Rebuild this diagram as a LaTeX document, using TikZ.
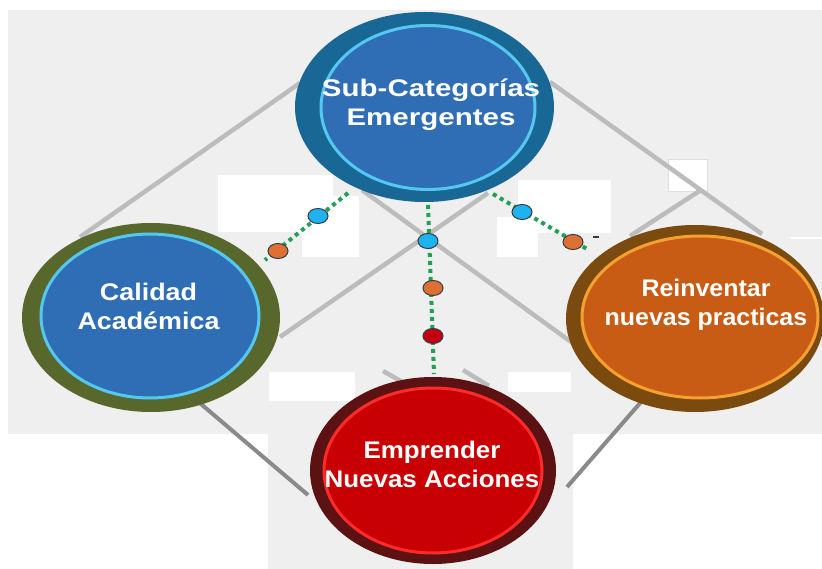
\documentclass[tikz,border=0pt]{standalone}
\usepackage{fontspec}
\setmainfont{Liberation Sans}
\newfontfamily\subcatfont[FakeStretch=1.23]{Liberation Sans}
\newfontfamily\calfont[FakeStretch=1.12]{Liberation Sans}
\newfontfamily\reifont[FakeStretch=1.04]{Liberation Sans}
\newfontfamily\empfont[FakeStretch=1.08]{Liberation Sans}
\usepackage{tikz}

\definecolor{bggray}{RGB}{239,239,239}
\definecolor{upgray}{RGB}{188,188,188}
\definecolor{lowgray}{RGB}{138,138,138}
\definecolor{dotgreen}{RGB}{34,160,84}
\definecolor{subouter}{RGB}{24,103,148}
\definecolor{calouter}{RGB}{88,103,44}
\definecolor{reiouter}{RGB}{122,74,14}
\definecolor{empouter}{RGB}{92,18,18}
\definecolor{bluefill}{RGB}{47,109,181}
\definecolor{bluering}{RGB}{85,200,240}
\definecolor{orangefill}{RGB}{200,92,20}
\definecolor{orangering}{RGB}{246,160,48}
\definecolor{redfill}{RGB}{200,0,4}
\definecolor{redring}{RGB}{255,42,42}
\definecolor{dotblue}{RGB}{30,178,238}
\definecolor{dotorange}{RGB}{222,112,52}
\definecolor{dotred}{RGB}{196,0,16}
\definecolor{dotedge}{RGB}{50,60,70}

\tikzset{
	upline/.style={upgray, line width=4.5pt},
	lowline/.style={lowgray, line width=4pt},
	greenline/.style={dotgreen, line width=4pt, dash pattern=on 4pt off 4pt},
	dotmark/.style={draw=dotedge, line width=1pt},
	lbl/.style={text=white, align=center, inner sep=0pt, font=#1\bfseries\fontsize{24pt}{29pt}\selectfont}
}

\begin{document}
\begin{tikzpicture}[x=1pt,y=-1pt]
	\useasboundingbox (0,0) rectangle (822,569);
	% Background %
	\fill [bggray] (8,10) rectangle (822,434);
	\fill [bggray] (268,434) rectangle (573,569);
	% Patches %
	\fill [white] (218,175) rectangle (333,232);
	\fill [white] (302,196) rectangle (359,257);
	\fill [white] (518,180) rectangle (611,233);
	\fill [white] (497,217) rectangle (538,257);
	\filldraw [fill=white, draw=gray!25] (668,159) rectangle (707,191);
	\fill [white] (791,237) rectangle (822,239);
	\fill [white] (269,372) rectangle (355,401);
	\fill [white] (508,372) rectangle (571,392);
	% Line ends %
	\coordinate (cal-top) at (80,237);
	\coordinate (sub-left) at (300,83);
	\coordinate (sub-right) at (550,82);
	\coordinate (rei-top) at (762,234);
	\coordinate (sub-low) at (362,190);
	\coordinate (rei-left) at (578,347);
	\coordinate (cal-right) at (280,337);
	\coordinate (sub-mid) at (488,193);
	\coordinate (cal-low) at (188,393);
	\coordinate (emp-left) at (308,495);
	\coordinate (emp-right) at (567,487);
	\coordinate (rei-low) at (641,402);
	\coordinate (rei-up) at (630,236);
	\coordinate (crossing) at (701,190);
	\coordinate (emp-a) at (383,371);
	\coordinate (emp-b) at (406,384);
	\coordinate (emp-c) at (463,370);
	\coordinate (emp-d) at (489,386);
	% Lines %
	\draw [upline] (cal-top) -- (sub-left);
	\draw [upline] (sub-right) -- (rei-top);
	\draw [upline] (sub-low) -- (rei-left);
	\draw [upline] (cal-right) -- (sub-mid);
	\draw [upline] (rei-up) -- (crossing);
	\draw [upline] (emp-a) -- (emp-b);
	\draw [upline] (emp-c) -- (emp-d);
	\draw [lowline] (cal-low) -- (emp-left);
	\draw [lowline] (emp-right) -- (rei-low);
	% Sub-Categorias %
	\fill [subouter] (424.5,107) ellipse (129.5pt and 95pt);
	\filldraw [fill=bluefill, draw=bluering, line width=3pt] (428,107.5) ellipse (107pt and 82pt);
	% Calidad %
	\fill [calouter] (151,317.5) ellipse (129pt and 94.5pt);
	\filldraw [fill=bluefill, draw=bluering, line width=3pt] (150,316) ellipse (109pt and 82pt);
	% Reinventar %
	\fill [reiouter] (695,318.5) ellipse (129pt and 93.5pt);
	\filldraw [fill=orangefill, draw=orangering, line width=3pt] (700,317) ellipse (118pt and 81pt);
	% Emprender %
	\fill [empouter] (433,470.5) ellipse (123pt and 93.5pt);
	\filldraw [fill=redfill, draw=redring, line width=3pt] (433,470.5) ellipse (109pt and 82.5pt);
	% Dotted links %
	\coordinate (lk-top-l) at (348,193);
	\coordinate (lk-cal) at (265,260);
	\coordinate (lk-top-m) at (428,205);
	\coordinate (lk-emp) at (434,374);
	\coordinate (lk-top-r) at (493,194);
	\coordinate (lk-rei) at (587,249);
	\draw [greenline] (lk-top-l) -- (lk-cal);
	\draw [greenline] (lk-top-m) -- (lk-emp);
	\draw [greenline] (lk-top-r) -- (lk-rei);
	\filldraw [dotmark, fill=dotblue] (318,216) ellipse (10pt and 7.5pt);
	\filldraw [dotmark, fill=dotorange] (278,251) ellipse (10pt and 7.5pt);
	\filldraw [dotmark, fill=dotblue] (428,241) ellipse (10pt and 7.5pt);
	\filldraw [dotmark, fill=dotorange] (433,288) ellipse (10pt and 7.5pt);
	\filldraw [dotmark, fill=dotred] (433,336) ellipse (10pt and 7.5pt);
	\filldraw [dotmark, fill=dotblue] (522,212) ellipse (10pt and 7.5pt);
	\filldraw [dotmark, fill=dotorange] (573,242) ellipse (10pt and 7.5pt);
	\draw [dotedge, line width=2pt] (593,237) -- (599,237);
	% Labels %
	\node (subcat) at (431,105) [lbl=\subcatfont] {Sub-Categorías\\Emergentes};
	\node (calidad) at (148.5,306) [lbl=\calfont] {Calidad\\Académica};
	\node (reinventar) at (706,305) [lbl=\reifont] {Reinventar\\nuevas practicas};
	\node (emprender) at (432,464) [lbl=\empfont] {Emprender\\Nuevas Acciones};
\end{tikzpicture}
\end{document}
